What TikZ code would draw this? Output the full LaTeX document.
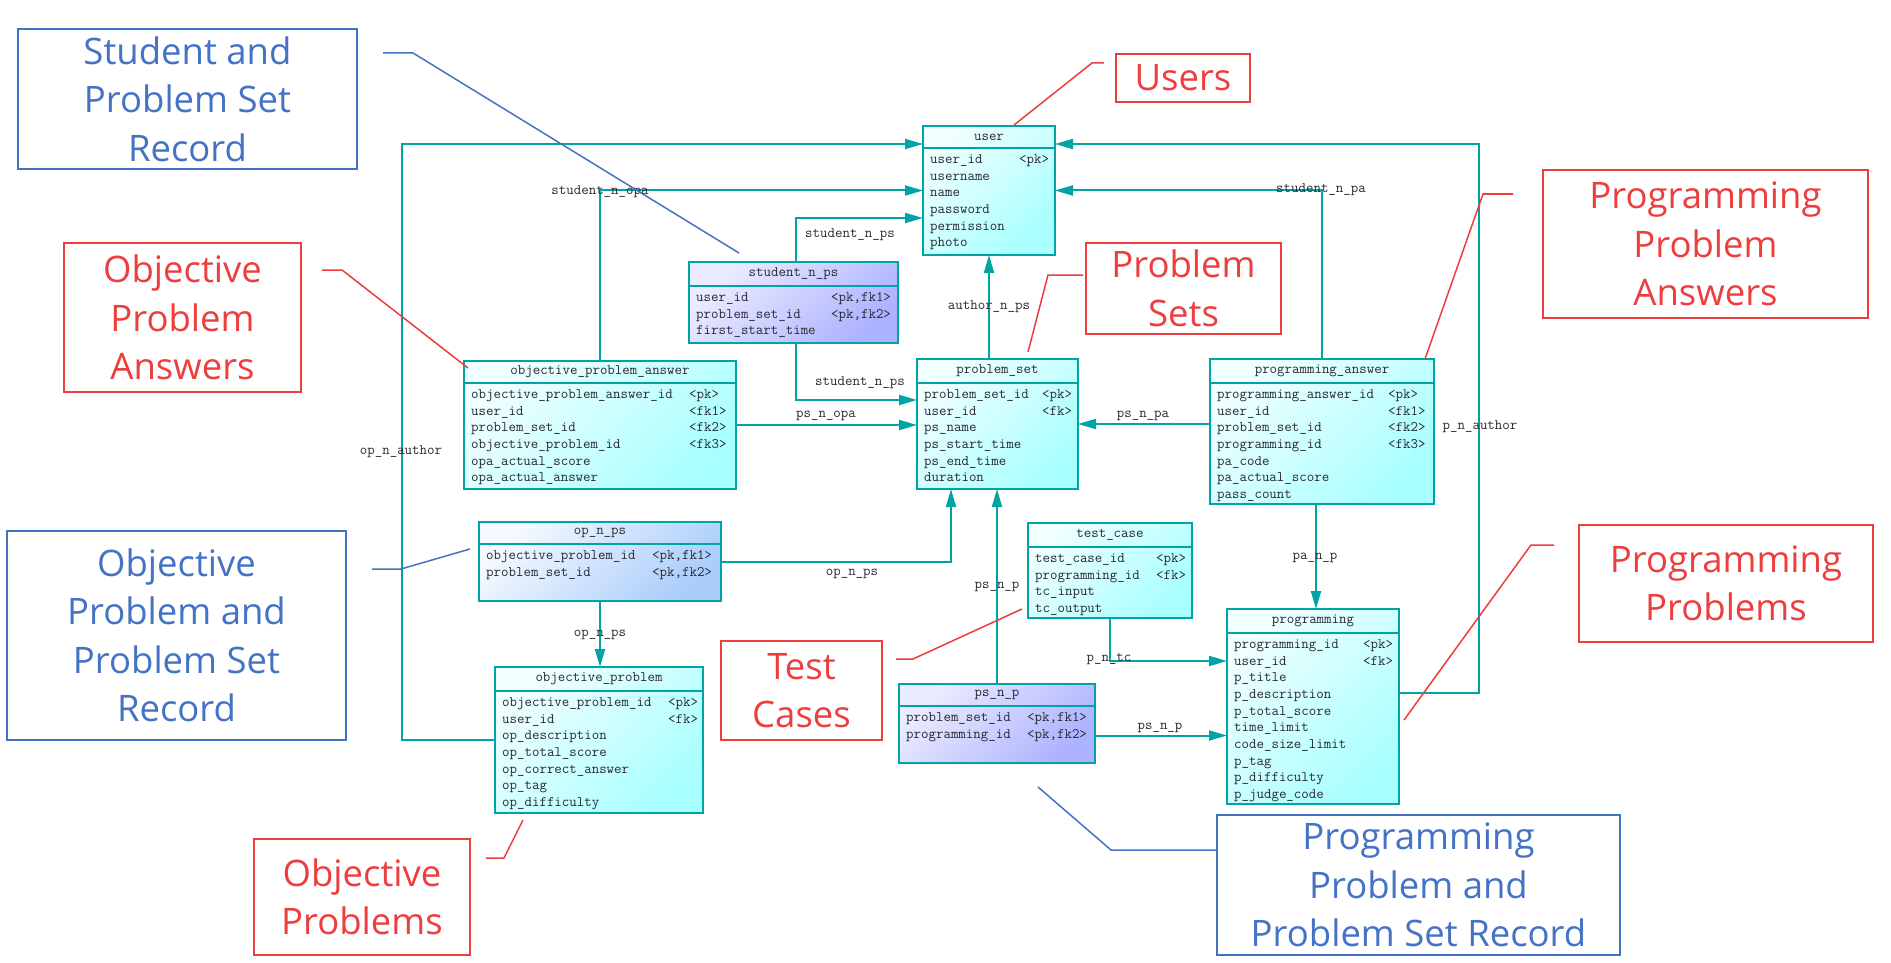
\documentclass[tikz,border=0pt]{standalone}
\usepackage{fontspec}
\newfontfamily\annfont{Open Sans}
\usetikzlibrary{arrows.meta}
\definecolor{teal1}{RGB}{0,164,164}
\definecolor{annblue}{RGB}{68,114,196}
\definecolor{annred}{RGB}{237,61,61}
\definecolor{cyTL}{RGB}{240,255,255}
\definecolor{cyBR}{RGB}{168,255,255}
\definecolor{buTL}{RGB}{236,236,255}
\definecolor{buBR}{RGB}{172,178,255}
\definecolor{skTL}{RGB}{244,249,255}
\definecolor{skBR}{RGB}{170,205,250}
\definecolor{txt}{RGB}{40,40,50}
\tikzset{
  tblbox/.style={draw=teal1, line width=2pt, inner sep=0pt, outer sep=0pt, anchor=north west},
  cyanfill/.style={top color=cyTL, bottom color=cyBR, shading angle=45},
  bluefill/.style={top color=buTL, bottom color=buBR, shading angle=45},
  skyfill/.style={top color=skTL, bottom color=skBR, shading angle=45},
  tbltext/.style={font=\ttfamily\fontsize{14.5}{16.7}\selectfont, text=txt, inner sep=0pt},
  conn/.style={draw=teal1, line width=2pt, -{Triangle[length=18pt,width=10pt]}},
  lbl/.style={font=\ttfamily\fontsize{14.5}{16.7}\selectfont, text=txt, inner sep=0pt},
  bluebox/.style={draw=annblue, line width=2pt, text=annblue, font=\annfont\fontsize{36.5}{48.5}\selectfont, align=center, inner sep=0pt, anchor=north west},
  redbox/.style={draw=annred, line width=2pt, text=annred, font=\annfont\fontsize{36.5}{48.5}\selectfont, align=center, inner sep=0pt, anchor=north west},
  bluelink/.style={draw=annblue, line width=1.5pt},
  redlink/.style={draw=annred, line width=1.5pt},
}
\newcommand\tblbody[5]{%
  \draw[teal1, line width=2pt] (#1.west |- 0,#2) -- (#1.east |- 0,#2);
  \path (#1.north west) -- (#1.east |- 0,#2) node[midway, tbltext] {#3};
  \node[tbltext, anchor=north west, xshift=7pt, yshift=-3.5pt] at (#1.west |- 0,#2)
    {\begin{tabular}{@{}p{#4pt}@{}l@{}}#5\end{tabular}};
}
\begin{document}
\begin{tikzpicture}[x=1pt, y=-1pt]
\useasboundingbox (0,0) rectangle (1891,963);
\fill[white] (0,0) rectangle (1891,963);

% ---------- tables ----------
\node[tblbox, cyanfill, minimum width=132pt, minimum height=129pt] (user) at (923,126) {};
\tblbody{user}{148}{user}{89}{user\_id & <pk>\\ username\\ name\\ password\\ permission\\ photo}

\node[tblbox, bluefill, minimum width=209pt, minimum height=81pt] (stnps) at (689,262) {};
\tblbody{stnps}{286}{student\_n\_ps}{135}{user\_id & <pk,fk1>\\ problem\_set\_id & <pk,fk2>\\ first\_start\_time}

\node[tblbox, cyanfill, minimum width=272pt, minimum height=128pt] (opa) at (464,361) {};
\tblbody{opa}{383}{objective\_problem\_answer}{218}{objective\_problem\_answer\_id & <pk>\\ user\_id & <fk1>\\ problem\_set\_id & <fk2>\\ objective\_problem\_id & <fk3>\\ opa\_actual\_score\\ opa\_actual\_answer}

\node[tblbox, cyanfill, minimum width=161pt, minimum height=130pt] (ps) at (917,359) {};
\tblbody{ps}{383}{problem\_set}{118}{problem\_set\_id & <pk>\\ user\_id & <fk>\\ ps\_name\\ ps\_start\_time\\ ps\_end\_time\\ duration}

\node[tblbox, cyanfill, minimum width=224pt, minimum height=145pt] (pa) at (1210,359) {};
\tblbody{pa}{383}{programming\_answer}{171}{programming\_answer\_id & <pk>\\ user\_id & <fk1>\\ problem\_set\_id & <fk2>\\ programming\_id & <fk3>\\ pa\_code\\ pa\_actual\_score\\ pass\_count}

\node[tblbox, skyfill, minimum width=242pt, minimum height=79pt] (opnps) at (479,522) {};
\tblbody{opnps}{544}{op\_n\_ps}{166}{objective\_problem\_id & <pk,fk1>\\ problem\_set\_id & <pk,fk2>}

\node[tblbox, cyanfill, minimum width=208pt, minimum height=146pt] (op) at (495,667) {};
\tblbody{op}{691}{objective\_problem}{166}{objective\_problem\_id & <pk>\\ user\_id & <fk>\\ op\_description\\ op\_total\_score\\ op\_correct\_answer\\ op\_tag\\ op\_difficulty}

\node[tblbox, cyanfill, minimum width=164pt, minimum height=95pt] (tc) at (1028,523) {};
\tblbody{tc}{547}{test\_case}{121}{test\_case\_id & <pk>\\ programming\_id & <fk>\\ tc\_input\\ tc\_output}

\node[tblbox, bluefill, minimum width=196pt, minimum height=79pt] (psnp) at (899,684) {};
\tblbody{psnp}{706}{ps\_n\_p}{121}{problem\_set\_id & <pk,fk1>\\ programming\_id & <pk,fk2>}

\node[tblbox, cyanfill, minimum width=172pt, minimum height=195pt] (prog) at (1227,609) {};
\tblbody{prog}{633}{programming}{129}{programming\_id & <pk>\\ user\_id & <fk>\\ p\_title\\ p\_description\\ p\_total\_score\\ time\_limit\\ code\_size\_limit\\ p\_tag\\ p\_difficulty\\ p\_judge\_code}

% ---------- connectors ----------
\draw[conn] (op.west) -- ++(-93,0) |- ([yshift=-18pt]user.north west);
\draw[conn] (opa.north) |- (user.west);
\draw[conn] ([xshift=2.5pt]stnps.north) |- ([yshift=-92pt]user.north west);
\draw[conn] ([xshift=2.5pt]stnps.south) |- ([yshift=-41pt]ps.north west);
\draw[conn] (opa.east) -- (ps.west |- opa.east);
\draw[conn] (pa.west |- ps.east) -- (ps.east);
\draw[conn] (ps.north -| user.south) -- (user.south);
\draw[conn] (pa.north) |- (user.east);
\draw[conn] ([yshift=14pt]prog.east) -- ++(80,0) |- ([yshift=-18pt]user.north east);
\draw[conn] (opnps.east) -| ([xshift=34pt]ps.south west);
\draw[conn] (opnps.south) -- (opnps.south |- op.north);
\draw[conn] (psnp.north) -- (psnp.north |- ps.south);
\draw[conn] ([yshift=-12pt]psnp.east) -- ([yshift=-12pt]psnp.east -| prog.west);
\draw[conn] ([xshift=-6pt]pa.south) -- ([xshift=-6pt]pa.south |- prog.north);
\draw[conn] (tc.south) |- ([yshift=-52pt]prog.north west);

% ---------- connector labels ----------
\node[lbl] (l1) at (401,452) {op\_n\_author};
\node[lbl] (l2) at (600,192) {student\_n\_opa};
\node[lbl] (l3) at (850,235) {student\_n\_ps};
\node[lbl] (l4) at (860,383) {student\_n\_ps};
\node[lbl] (l5) at (826,416) {ps\_n\_opa};
\node[lbl] (l6) at (1143,416) {ps\_n\_pa};
\node[lbl] (l7) at (989,307) {author\_n\_ps};
\node[lbl] (l8) at (1321,190) {student\_n\_pa};
\node[lbl] (l9) at (1480,427) {p\_n\_author};
\node[lbl] (l10) at (852,574) {op\_n\_ps};
\node[lbl] (l11) at (600,635) {op\_n\_ps};
\node[lbl] (l12) at (997,587) {ps\_n\_p};
\node[lbl] (l13) at (1160,728) {ps\_n\_p};
\node[lbl] (l14) at (1315,558) {pa\_n\_p};
\node[lbl] (l15) at (1109,659) {p\_n\_tc};

% ---------- annotations ----------
\node[bluebox, minimum width=339pt, minimum height=140pt] (b1) at (17,28) {Student and\\Problem Set\\Record};
\node[bluebox, minimum width=339pt, minimum height=209pt] (b2) at (6,530) {Objective\\Problem and\\Problem Set\\Record};
\node[bluebox, minimum width=403pt, minimum height=140pt] (b3) at (1216,814) {Programming\\Problem and\\Problem Set Record};

\node[redbox, minimum width=134pt, minimum height=48pt] (r1) at (1115,53) {Users};
\node[redbox, minimum width=195pt, minimum height=91pt] (r2) at (1085,242) {Problem\\Sets};
\node[redbox, minimum width=325pt, minimum height=148pt] (r3) at (1542,169) {Programming\\Problem\\Answers};
\node[redbox, minimum width=237pt, minimum height=149pt] (r4) at (63,242) {Objective\\Problem\\Answers};
\node[redbox, minimum width=294pt, minimum height=117pt] (r5) at (1578,524) {Programming\\Problems};
\node[redbox, minimum width=161pt, minimum height=99pt] (r6) at (720,640) {Test\\Cases};
\node[redbox, minimum width=216pt, minimum height=116pt] (r7) at (253,838) {Objective\\Problems};

% annotation pointers
\coordinate (b1s) at (383,53);  \coordinate (b1e) at (739,253);
\draw[bluelink] (b1s) -- (413,53) -- (b1e);
\coordinate (b2s) at (372,569); \coordinate (b2e) at (470,549);
\draw[bluelink] (b2s) -- (401,569) -- (b2e);
\coordinate (b3s) at (1216,850); \coordinate (b3e) at (1038,787);
\draw[bluelink] (b3s) -- (1111,850) -- (b3e);

\coordinate (r1s) at (1104,63); \coordinate (r1e) at (1014,125);
\draw[redlink] (r1s) -- (1092,63) -- (r1e);
\coordinate (r2s) at (1083,275); \coordinate (r2e) at (1028,352);
\draw[redlink] (r2s) -- (1048,275) -- (r2e);
\coordinate (r3s) at (1513,194); \coordinate (r3e) at (1425,359);
\draw[redlink] (r3s) -- (1483,194) -- (r3e);
\coordinate (r4s) at (322,270); \coordinate (r4e) at (468,368);
\draw[redlink] (r4s) -- (342,270) -- (r4e);
\coordinate (r5s) at (1554,545); \coordinate (r5e) at (1404,720);
\draw[redlink] (r5s) -- (1531,545) -- (r5e);
\coordinate (r6s) at (896,659); \coordinate (r6e) at (1022,609);
\draw[redlink] (r6s) -- (913,659) -- (r6e);
\coordinate (r7s) at (486,858); \coordinate (r7e) at (523,820);
\draw[redlink] (r7s) -- (504,858) -- (r7e);
\end{tikzpicture}
\end{document}
